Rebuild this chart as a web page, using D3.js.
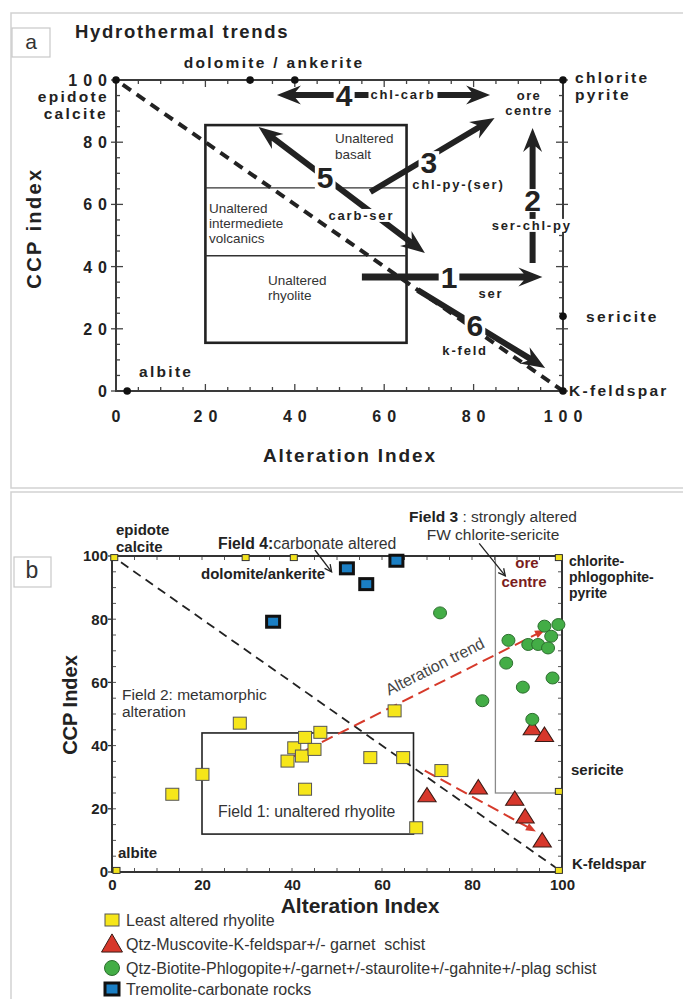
<!DOCTYPE html>
<html><head><meta charset="utf-8">
<script src="https://cdn.jsdelivr.net/npm/d3@7"></script>
<style>
body{margin:0;background:#fff}
text{font-family:"Liberation Sans",Arial,Helvetica,sans-serif}
</style>
</head><body>
<svg id="c" width="683" height="999"></svg>
<script>
// ================= DATA =================
// Panel a
const aTickValues = [0, 20, 40, 60, 80, 100];
const aTickLabels = ["0", "20", "40", "60", "80", "100"];
const aEndX = [0, 30, 40, 100, 100, 2.5, 100];
const aEndY = [100, 100, 100, 100, 24, 0, 0];
const aFieldX = [20, 65];
const aFieldY = [15.5, 43.5, 65.3, 85.5];
const aArrowNames = ["1", "2", "3", "4", "5", "6"];
const aArrowFrom = [[55, 36.7], [93.2, 41.2], [56.9, 64], [36, 95.2], [69.1, 44.4], [67.5, 32.5]];
const aArrowTo = [[95.4, 36.7], [93.2, 84.6], [84.7, 87.8], [83.7, 95.2], [31.9, 84.9], [96, 7.4]];
const aArrowDouble = [false, false, false, true, true, false];
const aArrowNumPos = [[74.5, 36.7], [93.2, 61.4], [70, 73.6], [51, 95.2], [46.8, 68.8], [80.3, 21.2]];
const aTrendLabels = ["ser", "ser-chl-py", "chl-py-(ser)", "chl-carb", "carb-ser", "k-feld"];
const aTrendLabelPos = [[83.9, 29.9], [93, 51.8], [76.6, 64.8], [64.2, 93.8], [54.9, 55], [78.1, 11.6]];

// Panel b
const bTickValues = [0, 20, 40, 60, 80, 100];
const rhyoliteAI  = [13.4, 20.1, 28.4, 39.0, 40.5, 42.2, 42.9, 42.9, 45.0, 46.3, 57.4, 62.8, 64.7, 67.6, 73.2];
const rhyoliteCCP = [24.6, 30.9, 47.1, 35.1, 39.3, 36.7, 42.6, 26.2, 38.8, 44.2, 36.2, 51.0, 36.2, 14.0, 32.1];
const kfsSchistAI  = [70.0, 81.4, 89.5, 91.8, 93.4, 96.1, 95.6];
const kfsSchistCCP = [24.2, 26.7, 23.1, 17.5, 45.4, 43.3, 9.9];
const btSchistAI  = [72.9, 88.1, 87.6, 92.5, 94.7, 96.1, 97.6, 96.9, 99.2, 97.9, 91.3, 82.3, 93.4];
const btSchistCCP = [82.0, 73.3, 66.1, 72.0, 72.0, 77.8, 74.6, 70.9, 78.3, 61.4, 58.5, 54.2, 48.3];
const tremoliteAI  = [35.8, 52.2, 56.5, 63.2];
const tremoliteCCP = [79.2, 96.1, 91.1, 98.5];
const bEndX = [0.5, 29.7, 40.4, 99.3, 99.3, 99.3, 1];
const bEndY = [99.5, 99.5, 99.5, 99.5, 25.5, 0.5, 0.5];
const field1X = [20, 67], field1Y = [12, 44];
const field3X = [85.2, 100], field3Y = [25, 100];
const trendFrom = [[39.5, 36.0], [69.5, 32.1]];
const trendTo = [[96.2, 76.6], [94.2, 12.8]];
const legendLabels = ["Least altered rhyolite", "Qtz-Muscovite-K-feldspar+/- garnet  schist",
  "Qtz-Biotite-Phlogopite+/-garnet+/-staurolite+/-gahnite+/-plag schist", "Tremolite-carbonate rocks"];

// ================= DRAW =================
const svg = d3.select("#c");
const dark = "#222";

// frames
svg.append("rect").attr("x", 11).attr("y", 13).attr("width", 700).attr("height", 475)
  .attr("fill", "none").attr("stroke", "#d2d2d2").attr("stroke-width", 1.5);
svg.append("rect").attr("x", 11).attr("y", 492).attr("width", 700).attr("height", 540)
  .attr("fill", "none").attr("stroke", "#d2d2d2").attr("stroke-width", 1.5);

function arrowPoly(x1, y1, x2, y2, w, hl, hw, dbl) {
  const dx = x2 - x1, dy = y2 - y1, len = Math.hypot(dx, dy);
  const ux = dx / len, uy = dy / len, px = -uy, py = ux;
  const P = (t, s) => [x1 + ux * t + px * s, y1 + uy * t + py * s];
  let pts;
  if (dbl) {
    pts = [P(0, 0), P(hl, -hw / 2), P(hl * 0.78, -w / 2), P(len - hl * 0.78, -w / 2), P(len - hl, -hw / 2), P(len, 0),
      P(len - hl, hw / 2), P(len - hl * 0.78, w / 2), P(hl * 0.78, w / 2), P(hl, hw / 2)];
  } else {
    pts = [P(0, -w / 2), P(len - hl * 0.78, -w / 2), P(len - hl, -hw / 2), P(len, 0),
      P(len - hl, hw / 2), P(len - hl * 0.78, w / 2), P(0, w / 2)];
  }
  return "M" + pts.map(p => p[0].toFixed(1) + "," + p[1].toFixed(1)).join("L") + "Z";
}

// ---------- Panel a ----------
const xa = d3.scaleLinear().domain([0, 100]).range([116, 563]);
const ya = d3.scaleLinear().domain([0, 100]).range([391, 80]);
const ga = svg.append("g");

// label box "a"
ga.append("rect").attr("x", 12).attr("y", 28).attr("width", 38).attr("height", 29)
  .attr("fill", "#fff").attr("stroke", "#c8c8c8").attr("stroke-width", 1.2);
ga.append("text").attr("x", 31).attr("y", 49).attr("text-anchor", "middle")
  .attr("font-size", 21).attr("fill", "#333").text("a");
ga.append("text").attr("x", 75).attr("y", 38).attr("font-size", 18.5).attr("font-weight", "bold")
  .attr("letter-spacing", 1.7).attr("fill", dark).attr("xml:space", "preserve").text("Hydrothermal trends");

// minor ticks
const minorA = d3.range(0, 101, 5);
const tickCol = "#444";
minorA.forEach(v => {
  const L = v % 20 === 0 ? 7 : 4;
  ga.append("line").attr("x1", xa(v)).attr("x2", xa(v)).attr("y1", ya(0)).attr("y2", ya(0) - L).attr("stroke", tickCol).attr("stroke-width", 1.3);
  ga.append("line").attr("x1", xa(v)).attr("x2", xa(v)).attr("y1", ya(100)).attr("y2", ya(100) + L).attr("stroke", tickCol).attr("stroke-width", 1.3);
  ga.append("line").attr("y1", ya(v)).attr("y2", ya(v)).attr("x1", xa(0)).attr("x2", xa(0) + L).attr("stroke", tickCol).attr("stroke-width", 1.3);
  ga.append("line").attr("y1", ya(v)).attr("y2", ya(v)).attr("x1", xa(100)).attr("x2", xa(100) - L).attr("stroke", tickCol).attr("stroke-width", 1.3);
  if (v % 20 === 0) {
    ga.append("line").attr("y1", ya(v)).attr("y2", ya(v)).attr("x1", xa(0)).attr("x2", xa(0) - 5).attr("stroke", tickCol).attr("stroke-width", 1.3);
    ga.append("line").attr("y1", ya(v)).attr("y2", ya(v)).attr("x1", xa(100)).attr("x2", xa(100) + 5).attr("stroke", tickCol).attr("stroke-width", 1.3);
  }
});
ga.append("rect").attr("x", xa(0)).attr("y", ya(100)).attr("width", xa(100) - xa(0)).attr("height", ya(0) - ya(100))
  .attr("fill", "none").attr("stroke", "#3a3a3a").attr("stroke-width", 2);

// tick labels (spaced digits)
aTickValues.forEach((v, i) => {
  ga.append("text").attr("x", xa(v) + 3).attr("y", 422).attr("text-anchor", "middle")
    .attr("font-size", 16).attr("font-weight", "bold").attr("letter-spacing", 6).attr("fill", dark).text(aTickLabels[i]);
  ga.append("text").attr("x", 107 + 6).attr("y", ya(v) + 6).attr("text-anchor", "end")
    .attr("font-size", 16).attr("font-weight", "bold").attr("letter-spacing", 6).attr("fill", dark).text(aTickLabels[i]);
});

// field boxes
ga.append("rect").attr("x", xa(aFieldX[0])).attr("y", ya(aFieldY[3])).attr("width", xa(aFieldX[1]) - xa(aFieldX[0]))
  .attr("height", ya(aFieldY[0]) - ya(aFieldY[3])).attr("fill", "none").attr("stroke", dark).attr("stroke-width", 2.6);
[aFieldY[1], aFieldY[2]].forEach(v => ga.append("line").attr("x1", xa(aFieldX[0])).attr("x2", xa(aFieldX[1]))
  .attr("y1", ya(v)).attr("y2", ya(v)).attr("stroke", "#333").attr("stroke-width", 1.4));

// box texts
const boxTexts = [["Unaltered", 335, 143], ["basalt", 335, 159], ["Unaltered", 209, 213], ["intermediete", 209, 228],
  ["volcanics", 209, 243], ["Unaltered", 268, 285], ["rhyolite", 268, 300]];
boxTexts.forEach(t => ga.append("text").attr("x", t[1]).attr("y", t[2]).attr("font-size", 13.5).attr("fill", "#333").text(t[0]));

// dashed diagonal
ga.append("line").attr("x1", xa(1.5)).attr("y1", ya(98.5)).attr("x2", xa(100)).attr("y2", ya(0))
  .attr("stroke", dark).attr("stroke-width", 4).attr("stroke-dasharray", "10,7");

// arrows
aArrowFrom.forEach((f, i) => {
  const t = aArrowTo[i];
  ga.append("path").attr("d", arrowPoly(xa(f[0]), ya(f[1]), xa(t[0]), ya(t[1]), i === 0 ? 7 : 6, 24, 19, aArrowDouble[i]))
    .attr("fill", dark);
});
// numbers with white background
function bgText(g, x, y, txt, attrs, pad) {
  const t = g.append("text").attr("x", x).attr("y", y).text(txt);
  Object.entries(attrs).forEach(([k, v]) => t.attr(k, v));
  const bb = t.node().getBBox();
  g.insert("rect", () => t.node()).attr("x", bb.x - pad[0]).attr("y", bb.y + pad[1]).attr("width", bb.width + 2 * pad[0])
    .attr("height", bb.height - 2 * pad[1]).attr("fill", "#fff");
  return t;
}
aArrowNames.forEach((n, i) => {
  bgText(ga, xa(aArrowNumPos[i][0]), ya(aArrowNumPos[i][1]) + 11, n,
    {"text-anchor": "middle", "font-size": 30, "font-weight": "bold", "fill": dark}, [2, 5]);
});
aTrendLabels.forEach((n, i) => {
  bgText(ga, xa(aTrendLabelPos[i][0]), ya(aTrendLabelPos[i][1]), n,
    {"text-anchor": "middle", "font-size": 13, "font-weight": "bold", "letter-spacing": 1.8, "fill": dark}, [2, 1]);
});
// ore centre
[["ore", 93.6], ["centre", 88.7]].forEach(t => ga.append("text").attr("x", xa(92.4)).attr("y", ya(t[1]))
  .attr("text-anchor", "middle").attr("font-size", 13).attr("font-weight", "bold").attr("letter-spacing", 1.4).attr("fill", dark).text(t[0]));

// end-member points
aEndX.forEach((x, i) => ga.append("circle").attr("cx", xa(x)).attr("cy", ya(aEndY[i])).attr("r", 3.8).attr("fill", "#111"));

// end-member labels
const aLabels = [["dolomite / ankerite", 274, 68, "middle"], ["epidote", 109, 102, "end"], ["calcite", 108, 119, "end"],
  ["chlorite", 575, 83, "start"], ["pyrite", 575, 100, "start"], ["sericite", 586, 322, "start"],
  ["albite", 139, 377, "start"], ["K-feldspar", 569, 396, "start"]];
aLabels.forEach(t => ga.append("text").attr("x", t[1]).attr("y", t[2]).attr("text-anchor", t[3])
  .attr("font-size", 15.5).attr("font-weight", "bold").attr("letter-spacing", 2.3).attr("fill", dark).text(t[0]));

ga.append("text").attr("x", 350).attr("y", 462).attr("text-anchor", "middle").attr("font-size", 19)
  .attr("font-weight", "bold").attr("letter-spacing", 1.9).attr("fill", dark).text("Alteration Index");
ga.append("text").attr("transform", "translate(41,228) rotate(-90)").attr("text-anchor", "middle").attr("font-size", 20)
  .attr("font-weight", "bold").attr("letter-spacing", 2.4).attr("fill", dark).text("CCP index");

// ---------- Panel b ----------
const xb = d3.scaleLinear().domain([0, 100]).range([112, 562]);
const yb = d3.scaleLinear().domain([0, 100]).range([872, 556]);
const gb = svg.append("g");

gb.append("rect").attr("x", 14).attr("y", 557).attr("width", 37).attr("height", 30)
  .attr("fill", "#fff").attr("stroke", "#c8c8c8").attr("stroke-width", 1.2);
gb.append("text").attr("x", 32).attr("y", 578).attr("text-anchor", "middle")
  .attr("font-size", 23).attr("fill", "#333").text("b");

const minorB = d3.range(0, 101, 5);
minorB.forEach(v => {
  const L = 4;
  gb.append("line").attr("x1", xb(v)).attr("x2", xb(v)).attr("y1", yb(0)).attr("y2", yb(0) - L).attr("stroke", "#555").attr("stroke-width", 1);
  gb.append("line").attr("x1", xb(v)).attr("x2", xb(v)).attr("y1", yb(100)).attr("y2", yb(100) + L).attr("stroke", "#555").attr("stroke-width", 1);
  gb.append("line").attr("y1", yb(v)).attr("y2", yb(v)).attr("x1", xb(0)).attr("x2", xb(0) + L).attr("stroke", "#555").attr("stroke-width", 1);
  gb.append("line").attr("y1", yb(v)).attr("y2", yb(v)).attr("x1", xb(100)).attr("x2", xb(100) - L).attr("stroke", "#555").attr("stroke-width", 1);
});
bTickValues.forEach(v => {
  gb.append("line").attr("y1", yb(v)).attr("y2", yb(v)).attr("x1", xb(0)).attr("x2", xb(0) - 4).attr("stroke", "#333").attr("stroke-width", 1.3);
});

// field boxes
gb.append("rect").attr("x", xb(field3X[0])).attr("y", yb(field3Y[1])).attr("width", xb(field3X[1]) - xb(field3X[0]))
  .attr("height", yb(field3Y[0]) - yb(field3Y[1])).attr("fill", "none").attr("stroke", "#8a8a8a").attr("stroke-width", 1.3);
gb.append("rect").attr("x", xb(field1X[0])).attr("y", yb(field1Y[1])).attr("width", xb(field1X[1]) - xb(field1X[0]))
  .attr("height", yb(field1Y[0]) - yb(field1Y[1])).attr("fill", "none").attr("stroke", "#222").attr("stroke-width", 1.6);

// axis frame
gb.append("rect").attr("x", xb(0)).attr("y", yb(100)).attr("width", xb(100) - xb(0)).attr("height", yb(0) - yb(100))
  .attr("fill", "none").attr("stroke", "#333").attr("stroke-width", 2);

// axes labels
const bottomAxis = d3.axisBottom(xb).tickValues(bTickValues).tickSize(0).tickPadding(7).tickFormat(d3.format("d"));
const ab = gb.append("g").attr("transform", `translate(0,${yb(0)})`).call(bottomAxis);
ab.select(".domain").remove();
ab.selectAll("text").attr("font-size", 15).attr("font-weight", "bold").attr("fill", dark).attr("font-family", "Liberation Sans, Arial");
const leftAxis = d3.axisLeft(yb).tickValues(bTickValues).tickSize(0).tickPadding(4).tickFormat(d3.format("d"));
const al = gb.append("g").attr("transform", `translate(${xb(0)},0)`).call(leftAxis);
al.select(".domain").remove();
al.selectAll("text").attr("font-size", 15).attr("font-weight", "bold").attr("fill", dark).attr("font-family", "Liberation Sans, Arial");

// diagonal
gb.append("line").attr("x1", xb(2)).attr("y1", yb(98)).attr("x2", xb(98.5)).attr("y2", yb(1.5))
  .attr("stroke", dark).attr("stroke-width", 1.8).attr("stroke-dasharray", "9,6");

// red trend arrows
const red = "#d63a2b";
trendFrom.forEach((f, i) => {
  const t = trendTo[i];
  const x1 = xb(f[0]), y1 = yb(f[1]), x2 = xb(t[0]), y2 = yb(t[1]);
  const dx = x2 - x1, dy = y2 - y1, len = Math.hypot(dx, dy), ux = dx / len, uy = dy / len;
  gb.append("line").attr("x1", x1).attr("y1", y1).attr("x2", x2 - ux * 8).attr("y2", y2 - uy * 8)
    .attr("stroke", red).attr("stroke-width", 2).attr("stroke-dasharray", "12,6");
  const hl = 10, hw = 8, px = -uy, py = ux;
  const bx = x2 - ux * hl, by = y2 - uy * hl;
  gb.append("path").attr("d", `M${x2},${y2}L${bx + px * hw / 2},${by + py * hw / 2}L${bx - px * hw / 2},${by - py * hw / 2}Z`).attr("fill", red);
});
// "Alteration trend" label
(function () {
  const f = trendFrom[0], t = trendTo[0];
  const ang = Math.atan2(yb(t[1]) - yb(f[1]), xb(t[0]) - xb(f[0])) * 180 / Math.PI;
  const cx = xb(72.3), cy = yb(63.5);
  gb.append("text").attr("transform", `translate(${cx},${cy}) rotate(${ang})`).attr("text-anchor", "middle")
    .attr("font-size", 16).attr("fill", "#444").text("Alteration trend");
})();

// small end-member markers
bEndX.forEach((x, i) => gb.append("rect").attr("x", xb(x) - 3.5).attr("y", yb(bEndY[i]) - 3).attr("width", 7).attr("height", 6)
  .attr("fill", "#f2e21c").attr("stroke", "#333").attr("stroke-width", 1));

// thin black pointer arrows
function pointer(x1, y1, x2, y2) {
  const dx = x2 - x1, dy = y2 - y1, len = Math.hypot(dx, dy), ux = dx / len, uy = dy / len, px = -uy, py = ux;
  gb.append("line").attr("x1", x1).attr("y1", y1).attr("x2", x2).attr("y2", y2).attr("stroke", dark).attr("stroke-width", 1.3);
  const bx = x2 - ux * 7, by = y2 - uy * 7;
  gb.append("path").attr("d", `M${bx + px * 3.5},${by + py * 3.5}L${x2},${y2}L${bx - px * 3.5},${by - py * 3.5}`)
    .attr("fill", "none").attr("stroke", dark).attr("stroke-width", 1.3);
}
pointer(xb(45.1), yb(101.9), xb(48.8), yb(95));
pointer(xb(81.6), yb(104), xb(87.4), yb(93.7));

// data markers
const yellow = "#f6e61a";
rhyoliteAI.forEach((x, i) => gb.append("rect").attr("x", xb(x) - 6.5).attr("y", yb(rhyoliteCCP[i]) - 6).attr("width", 13).attr("height", 12)
  .attr("fill", yellow).attr("stroke", "#555").attr("stroke-width", 1));
const tri = d3.symbol().type(d3.symbolTriangle).size(120);
kfsSchistAI.forEach((x, i) => gb.append("path").attr("d", tri()).attr("transform", `translate(${xb(x)},${yb(kfsSchistCCP[i]) + 1.5}) scale(1.1,1)`)
  .attr("fill", "#d7372b").attr("stroke", "#3a1a14").attr("stroke-width", 1));
btSchistAI.forEach((x, i) => gb.append("ellipse").attr("cx", xb(x)).attr("cy", yb(btSchistCCP[i])).attr("rx", 6.5).attr("ry", 6)
  .attr("fill", "#43ad46").attr("stroke", "#2c6e2e").attr("stroke-width", 1));
tremoliteAI.forEach((x, i) => gb.append("rect").attr("x", xb(x) - 6.5).attr("y", yb(tremoliteCCP[i]) - 5.5).attr("width", 13).attr("height", 11)
  .attr("fill", "#1b7fc4").attr("stroke", "#111").attr("stroke-width", 3));

// text annotations panel b
const bBold = [["epidote", 116, 535, "start", dark, 15], ["calcite", 116, 552, "start", dark, 15],
  ["dolomite/ankerite", 201, 579, "start", dark, 15], ["ore", 527, 568, "middle", "#7a1d1d", 15], ["centre", 524, 587, "middle", "#7a1d1d", 15],
  ["chlorite-", 569, 566, "start", dark, 14], ["phlogophite-", 569, 582, "start", dark, 14], ["pyrite", 569, 598, "start", dark, 14],
  ["sericite", 571, 775, "start", dark, 15], ["albite", 118, 858, "start", dark, 15], ["K-feldspar", 572, 869, "start", dark, 15]];
bBold.forEach(t => gb.append("text").attr("x", t[1]).attr("y", t[2]).attr("text-anchor", t[3]).attr("font-size", t[5])
  .attr("font-weight", "bold").attr("fill", t[4]).text(t[0]));

const f4 = gb.append("text").attr("x", 218).attr("y", 549).attr("font-size", 15.8).attr("fill", "#333");
f4.append("tspan").attr("font-weight", "bold").attr("fill", dark).text("Field 4:");
f4.append("tspan").text("carbonate altered");
const f3 = gb.append("text").attr("x", 493).attr("y", 522).attr("text-anchor", "middle").attr("font-size", 15.5).attr("fill", "#333");
f3.append("tspan").attr("font-weight", "bold").attr("fill", dark).text("Field 3");
f3.append("tspan").text(" : strongly altered");
gb.append("text").attr("x", 493).attr("y", 540).attr("text-anchor", "middle").attr("font-size", 15.5).attr("fill", "#333").text("FW chlorite-sericite");
gb.append("text").attr("x", 122).attr("y", 700).attr("font-size", 15.5).attr("fill", "#333").text("Field 2: metamorphic");
gb.append("text").attr("x", 122).attr("y", 717).attr("font-size", 15.5).attr("fill", "#333").text("alteration");
gb.append("text").attr("x", 218).attr("y", 817).attr("font-size", 15.8).attr("fill", "#333").text("Field 1: unaltered rhyolite");

gb.append("text").attr("x", 360).attr("y", 913).attr("text-anchor", "middle").attr("font-size", 21)
  .attr("font-weight", "bold").attr("fill", dark).text("Alteration Index");
gb.append("text").attr("transform", "translate(77,705) rotate(-90)").attr("text-anchor", "middle").attr("font-size", 20)
  .attr("font-weight", "bold").attr("fill", dark).text("CCP Index");

// legend
const legY = [920, 944, 968, 989];
const legMarks = [
  g => g.append("rect").attr("x", -7).attr("y", -6).attr("width", 14).attr("height", 12).attr("fill", yellow).attr("stroke", "#555"),
  g => g.append("path").attr("d", d3.symbol().type(d3.symbolTriangle).size(190)()).attr("transform", "translate(0,2)").attr("fill", "#d7372b").attr("stroke", "#3a1a14"),
  g => g.append("ellipse").attr("rx", 7.5).attr("ry", 7.5).attr("fill", "#43ad46").attr("stroke", "#2c6e2e"),
  g => g.append("rect").attr("x", -7).attr("y", -6).attr("width", 14).attr("height", 12).attr("fill", "#1b7fc4").attr("stroke", "#111").attr("stroke-width", 3)
];
legendLabels.forEach((l, i) => {
  const g = gb.append("g").attr("transform", `translate(112,${legY[i]})`);
  legMarks[i](g);
  gb.append("text").attr("x", 126).attr("y", legY[i] + 6).attr("font-size", 16).attr("fill", "#333")
    .attr("xml:space", "preserve").text(l);
});
</script>
</body></html>
